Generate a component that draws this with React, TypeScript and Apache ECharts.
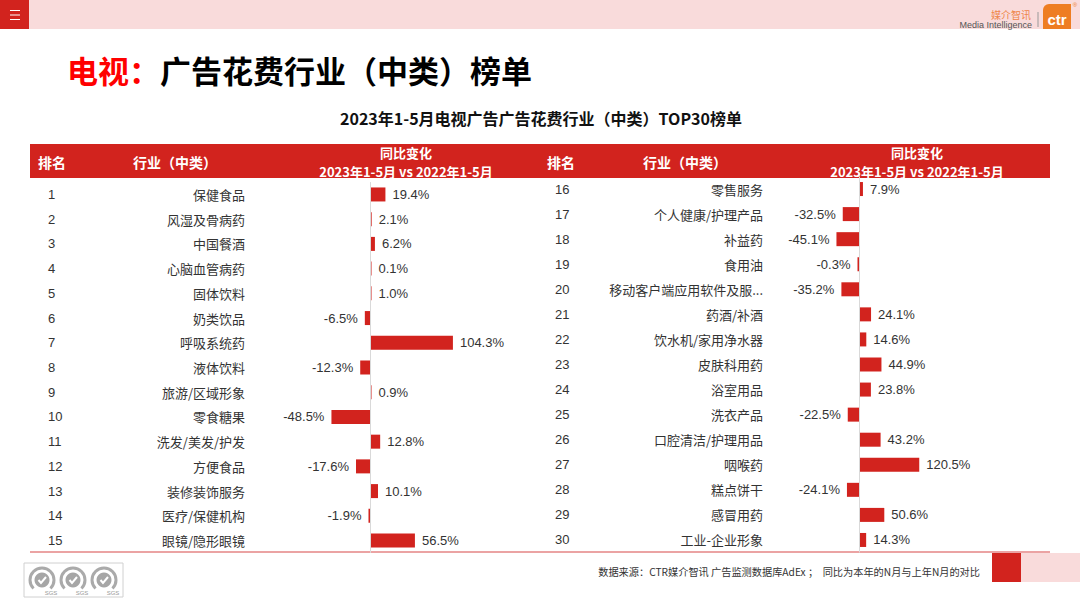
import React, { useEffect, useRef } from "react";
import * as echarts from "echarts";

const leftRanks = ["1", "2", "3", "4", "5", "6", "7", "8", "9", "10", "11", "12", "13", "14", "15"];
const leftNames = [
  "保健食品", "风湿及骨病药", "中国餐酒", "心脑血管病药", "固体饮料",
  "奶类饮品", "呼吸系统药", "液体饮料", "旅游/区域形象", "零食糖果",
  "洗发/美发/护发", "方便食品", "装修装饰服务", "医疗/保健机构", "眼镜/隐形眼镜",
];
const leftValues = [19.4, 2.1, 6.2, 0.1, 1.0, -6.5, 104.3, -12.3, 0.9, -48.5, 12.8, -17.6, 10.1, -1.9, 56.5];

const rightRanks = ["16", "17", "18", "19", "20", "21", "22", "23", "24", "25", "26", "27", "28", "29", "30"];
const rightNames = [
  "零售服务", "个人健康/护理产品", "补益药", "食用油", "移动客户端应用软件及服...",
  "药酒/补酒", "饮水机/家用净水器", "皮肤科用药", "浴室用品", "洗衣产品",
  "口腔清洁/护理用品", "咽喉药", "糕点饼干", "感冒用药", "工业-企业形象",
];
const rightValues = [7.9, -32.5, -45.1, -0.3, -35.2, 24.1, 14.6, 44.9, 23.8, -22.5, 43.2, 120.5, -24.1, 50.6, 14.3];

const titleRed = "电视：";
const titleBlack = "广告花费行业（中类）榜单";
const subtitle = "2023年1-5月电视广告广告花费行业（中类）TOP30榜单";
const headRank = "排名";
const headName = "行业（中类）";
const headChange1 = "同比变化";
const headChange2 = "2023年1-5月 vs 2022年1-5月";
const footnote = "数据来源：CTR媒介智讯 广告监测数据库AdEx ；  同比为本年的N月与上年N月的对比";

const RED = "#d2231e";
const CJK = '"Noto Sans CJK SC", "Microsoft YaHei", sans-serif';
const LATIN = 'Arial, "Liberation Sans", "Noto Sans CJK SC", sans-serif';

function barSeries(values: number[], idx: number) {
  return {
    type: "bar",
    xAxisIndex: idx,
    yAxisIndex: idx * 2,
    barWidth: 14,
    barMinHeight: 1.5,
    data: values.map((v) => ({ value: v, label: { position: v >= 0 ? "right" : "left" } })),
    itemStyle: { color: RED },
    label: {
      show: true,
      distance: 7,
      formatter: (p: any) => Number(p.value).toFixed(1) + "%",
      color: "#333",
      fontSize: 13,
      fontFamily: LATIN,
    },
    markLine: {
      silent: true,
      symbol: "none",
      label: { show: false },
      lineStyle: { color: "#d9d9d9", width: 1, type: "solid" },
      data: [{ xAxis: 0 }],
    },
  };
}

function yAxes(gridIndex: number, names: string[], ranks: string[], nameMargin: number, rankMargin: number) {
  const common = {
    type: "category",
    gridIndex,
    inverse: true,
    position: "left",
    axisLine: { show: false },
    axisTick: { show: false },
    splitLine: { show: false },
  };
  return [
    {
      ...common,
      data: names,
      axisLabel: { interval: 0, margin: nameMargin, align: "right", color: "#333", fontSize: 13, fontFamily: CJK },
    },
    {
      ...common,
      data: ranks,
      axisLabel: { interval: 0, margin: rankMargin, align: "left", color: "#333", fontSize: 13, fontFamily: LATIN },
    },
  ];
}

function txt(x: number, y: number, text: string, opts: any = {}) {
  return {
    type: "text",
    x,
    y,
    silent: true,
    style: {
      text,
      fill: opts.fill || "#333",
      fontSize: opts.fontSize || 13,
      fontWeight: opts.fontWeight || "normal",
      fontFamily: opts.fontFamily || CJK,
      align: opts.align || "left",
      verticalAlign: "middle",
      lineHeight: opts.lineHeight,
    },
  };
}

function sgsLogo(cx: number, cy: number) {
  return [
    { type: "arc", shape: { cx, cy, r: 12, startAngle: Math.PI * 0.75, endAngle: Math.PI * 2.25 }, style: { stroke: "#aaa", lineWidth: 3, fill: "none" }, silent: true },
    { type: "circle", shape: { cx, cy, r: 7.5 }, style: { fill: "#a6a6a6" }, silent: true },
    { type: "polyline", shape: { points: [[cx - 3.5, cy], [cx - 1, cy + 3], [cx + 4, cy - 3]] }, style: { stroke: "#fff", lineWidth: 2, fill: "none" }, silent: true },
    txt(cx + 9, cy + 13, "SGS", { fontSize: 6, fill: "#999", fontFamily: LATIN, align: "center" }),
  ];
}

export default function App() {
  const ref = useRef<HTMLDivElement>(null);
  useEffect(() => {
    if (!ref.current) return;
    const chart = echarts.init(ref.current, undefined, { renderer: "svg" });
    const graphic: any[] = [
      // top bar
      { type: "rect", shape: { x: 0, y: 0, width: 1080, height: 29 }, style: { fill: "#f9dbdb" }, silent: true },
      { type: "rect", shape: { x: 0, y: 0, width: 29, height: 29 }, style: { fill: RED }, silent: true },
      { type: "line", shape: { x1: 10, y1: 10.5, x2: 20, y2: 10.5 }, style: { stroke: "#fff", lineWidth: 1 }, silent: true },
      { type: "line", shape: { x1: 10, y1: 15, x2: 20, y2: 15 }, style: { stroke: "#fff", lineWidth: 1 }, silent: true },
      { type: "line", shape: { x1: 10, y1: 19.5, x2: 20, y2: 19.5 }, style: { stroke: "#fff", lineWidth: 1 }, silent: true },
      // logo
      txt(1031, 14, "媒介智讯", { fontSize: 10, fill: "#ef8548", align: "right" }),
      txt(1032, 25, "Media Intelligence", { fontSize: 9, fill: "#555", fontFamily: LATIN, align: "right" }),
      { type: "line", shape: { x1: 1038, y1: 12, x2: 1038, y2: 27 }, style: { stroke: "#999", lineWidth: 1 }, silent: true },
      { type: "rect", shape: { x: 1043, y: 4, width: 28, height: 25, r: [6, 0, 0, 0] }, style: { fill: "#ee7d22" }, silent: true },
      txt(1057, 19, "ctr", { fontSize: 15, fill: "#fff", fontWeight: "bold", fontFamily: LATIN, align: "center" }),
      txt(1075, 5, "®", { fontSize: 6, fill: "#ee7d22", fontFamily: LATIN, align: "center" }),
      // titles
      txt(67, 69, titleRed, { fontSize: 31, fontWeight: "bold", fill: "#ff0000" }),
      txt(160, 69, titleBlack, { fontSize: 31, fontWeight: "bold", fill: "#000" }),
      txt(541, 118, subtitle, { fontSize: 16, fontWeight: "bold", fill: "#111", align: "center" }),
      // header bar
      { type: "rect", shape: { x: 30, y: 144, width: 1020, height: 34 }, style: { fill: RED }, silent: true },
      txt(38, 162, headRank, { fontSize: 14, fontWeight: "bold", fill: "#fff" }),
      txt(133, 162, headName, { fontSize: 14, fontWeight: "bold", fill: "#fff" }),
      txt(406, 161.5, headChange1 + "\n" + headChange2, { fontSize: 13, fontWeight: "bold", fill: "#fff", align: "center", lineHeight: 19 }),
      txt(547, 162, headRank, { fontSize: 14, fontWeight: "bold", fill: "#fff" }),
      txt(643, 162, headName, { fontSize: 14, fontWeight: "bold", fill: "#fff" }),
      txt(917, 161.5, headChange1 + "\n" + headChange2, { fontSize: 13, fontWeight: "bold", fill: "#fff", align: "center", lineHeight: 19 }),
      // bottom rule
      { type: "line", shape: { x1: 30, y1: 552, x2: 1050, y2: 552 }, style: { stroke: "#e58585", lineWidth: 1.5 }, silent: true },
      // footer
      txt(980, 571, footnote, { fontSize: 10.2, fill: "#333", align: "right" }),
      { type: "rect", shape: { x: 992, y: 553, width: 29, height: 29 }, style: { fill: RED }, silent: true },
      { type: "rect", shape: { x: 1021, y: 553, width: 59, height: 29 }, style: { fill: "#f9dbdb" }, silent: true },
      // SGS box
      { type: "rect", shape: { x: 24, y: 563, width: 99, height: 34 }, style: { fill: "#fff", stroke: "#d0d0d0", lineWidth: 1 }, silent: true },
      ...sgsLogo(42, 580),
      ...sgsLogo(73, 580),
      ...sgsLogo(104, 580),
    ];

    chart.setOption({
      animation: false,
      backgroundColor: "#fff",
      grid: [
        { left: 290.5, width: 198.75, top: 182.1, height: 370.8 },
        { left: 809, width: 150, top: 176.5, height: 376 },
      ],
      xAxis: [
        { type: "value", gridIndex: 0, min: -100, max: 150, show: false },
        { type: "value", gridIndex: 1, min: -100, max: 200, show: false },
      ],
      yAxis: [
        ...yAxes(0, leftNames, leftRanks, 45.5, 242.5),
        ...yAxes(1, rightNames, rightRanks, 46, 254),
      ],
      series: [barSeries(leftValues, 0), barSeries(rightValues, 1)],
      graphic,
    });
    return () => chart.dispose();
  }, []);
  return <div ref={ref} style={{ position: "absolute", left: 0, top: 0, width: 1080, height: 608 }} />;
}
